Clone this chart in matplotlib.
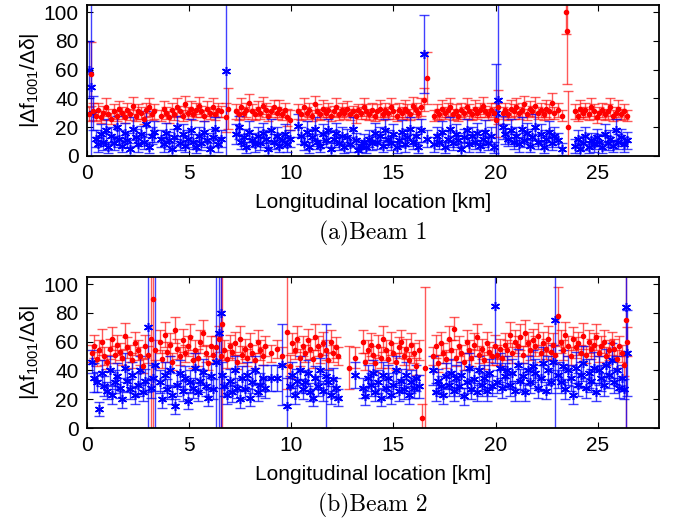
import numpy as np
from matplotlib import pyplot as plt

nan = np.nan

# ---- Beam 1 ----
x1 = [0.10, 0.18, 0.30, 0.42, 0.55, 0.68, 0.80, 0.93, 1.05, 1.18,
      1.30, 1.45, 1.58, 1.70, 1.85, 1.98, 2.10, 2.25, 2.38, 2.50,
      2.65, 2.78, 2.90, 3.05, 3.18, 3.30, 3.62, 3.75, 3.88, 4.00,
      4.15, 4.28, 4.40, 4.55, 4.68, 4.80, 4.95, 5.08, 5.20, 5.35,
      5.48, 5.60, 5.75, 5.88, 6.00, 6.15, 6.28, 6.40, 6.55, 6.82,
      6.90, 7.30, 7.42, 7.55, 7.68, 7.80, 7.95, 8.08, 8.20, 8.35,
      8.48, 8.60, 8.75, 8.88, 9.00, 9.15, 9.28, 9.40, 9.55, 9.68,
      9.80, 9.95, 10.35, 10.48, 10.60, 10.75, 10.88, 11.00, 11.15, 11.28,
      11.40, 11.55, 11.68, 11.80, 11.95, 12.08, 12.20, 12.35, 12.48, 12.60,
      12.75, 12.88, 13.00, 13.15, 13.28, 13.40, 13.55, 13.68, 13.80, 13.95,
      14.08, 14.20, 14.35, 14.48, 14.60, 14.75, 14.88, 15.00, 15.15, 15.28,
      15.40, 15.55, 15.68, 15.80, 15.95, 16.08, 16.20, 16.35, 16.50, 16.62,
      17.00, 17.12, 17.25, 17.38, 17.50, 17.65, 17.78, 17.90, 18.05, 18.18,
      18.30, 18.45, 18.58, 18.70, 18.85, 18.98, 19.10, 19.25, 19.38, 19.50,
      19.65, 19.78, 19.90, 20.02, 20.10, 20.35, 20.48, 20.60, 20.75, 20.88,
      21.00, 21.15, 21.28, 21.40, 21.55, 21.68, 21.80, 21.95, 22.08, 22.20,
      22.35, 22.48, 22.60, 22.75, 22.88, 23.05, 23.25, 23.46, 23.50, 23.56,
      23.90, 24.03, 24.15, 24.28, 24.40, 24.55, 24.68, 24.80, 24.95, 25.08,
      25.20, 25.35, 25.48, 25.60, 25.75, 25.88, 26.00, 26.15, 26.28, 26.45]
red1 = [29, 57, 31, 28, 32, 27, 30, 34, 29, 26,
        31, 28, 33, 30, 27, 32, 29, 35, 28, 31,
        30, 26, 32, 34, 29, 31, 28, 33, 30, 27,
        32, 29, 34, 31, 28, 36, 30, 33, 29, 32,
        35, 31, 28, 33, 30, 34, 29, 32, 31, 27,
        33, 31, 29, 34, 30, 32, 37, 31, 29, 33,
        30, 35, 32, 28, 31, 34, 30, 33, 29, 32,
        27, 25, 31, 29, 34, 30, 32, 28, 36, 31,
        29, 33, 30, 32, 28, 31, 34, 29, 32, 30,
        33, 29, 31, 28, 32, 30, 34, 31, 29, 32,
        28, 31, 33, 29, 32, 30, 34, 31, 28, 32,
        30, 33, 31, 29, 35, 32, 30, 34, 39, 54,
        28, 31, 29, 33, 30, 32, 34, 29, 31, 28,
        32, 30, 34, 31, 29, 33, 30, 32, 35, 31,
        29, 32, 30, 25, 34, 30, 32, 29, 33, 31,
        34, 30, 32, 36, 29, 33, 31, 35, 30, 32,
        29, 33, 31, 37, 30, 32, 28, 100, 87, 20,
        31, 28, 33, 30, 32, 29, 34, 31, 27, 30,
        32, 29, 31, 34, 28, 30, 33, 29, 31, 28]
red1_err = [5, 22, 6, 4, 5, 4, 5, 6, 4, 4,
            5, 4, 5, 4, 4, 5, 4, 6, 4, 5,
            4, 4, 5, 6, 4, 5, 4, 5, 4, 4,
            5, 4, 6, 4, 4, 6, 4, 5, 4, 5,
            6, 4, 4, 5, 4, 6, 4, 5, 4, 10,
            14, 5, 4, 6, 4, 5, 6, 5, 4, 5,
            4, 6, 5, 4, 4, 5, 4, 6, 4, 5,
            6, 7, 5, 4, 6, 4, 5, 4, 6, 5,
            4, 6, 4, 5, 4, 4, 6, 4, 5, 4,
            5, 4, 4, 5, 4, 4, 6, 5, 4, 5,
            4, 5, 6, 4, 5, 4, 6, 5, 4, 5,
            4, 6, 5, 4, 6, 5, 4, 6, 8, 18,
            4, 5, 4, 6, 4, 5, 6, 4, 5, 4,
            5, 4, 6, 5, 4, 6, 4, 5, 6, 4,
            4, 5, 4, 12, 12, 4, 5, 4, 6, 5,
            6, 4, 5, 6, 4, 5, 4, 6, 4, 5,
            4, 6, 5, 7, 4, 5, 4, 15, 37, 25,
            5, 4, 6, 4, 5, 4, 6, 5, 4, 4,
            5, 4, 5, 6, 4, 4, 6, 4, 5, 4]
blue1 = [60, 48, 30, 12, 8, 15, 10, 18, 6, 14,
         9, 20, 12, 7, 16, 11, 5, 19, 13, 8,
         15, 10, 22, 6, 14, 17, 12, 8, 16, 11,
         5, 13, 20, 9, 15, 7, 12, 18, 10, 6,
         14, 9, 17, 11, 5, 13, 19, 8, 12, 59,
         nan, 15, 20, 10, 13, 6, 17, 11, 8, 14,
         9, 16, 12, 5, 18, 10, 14, 7, 11, 15,
         8, 12, 21, 14, 9, 17, 6, 13, 19, 10,
         7, 15, 11, 18, 5, 12, 16, 9, 14, 6,
         13, 8, 19, 11, 4, 7, 10, 6, 12, 9,
         16, 10, 14, 7, 18, 12, 9, 15, 6, 11,
         17, 8, 13, 19, 10, 14, 6, 18, 71, 12,
         8, 14, 10, 17, 6, 12, 19, 9, 15, 11,
         5, 13, 18, 8, 14, 10, 16, 7, 12, 17,
         9, 14, 6, 30, 39, 20, 15, 12, 18, 10,
         14, 8, 19, 11, 16, 7, 13, 20, 10, 15,
         6, 12, 17, 9, 14, 11, 5, nan, nan, nan,
         7, 12, 5, 9, 14, 6, 11, 8, 13, 10,
         6, 15, 9, 12, 7, 18, 10, 13, 8, 11]
blue1_err = [20, 60, 12, 6, 5, 7, 6, 8, 4, 6,
             5, 8, 6, 4, 7, 5, 4, 8, 6, 5,
             6, 5, 9, 4, 6, 7, 6, 5, 7, 6,
             4, 6, 8, 5, 7, 4, 6, 8, 5, 4,
             6, 5, 7, 5, 4, 6, 8, 5, 6, 65,
             0, 7, 8, 5, 6, 4, 7, 5, 5, 6,
             5, 7, 6, 4, 8, 5, 6, 4, 5, 7,
             5, 6, 8, 6, 5, 7, 4, 6, 8, 5,
             4, 7, 5, 8, 4, 6, 7, 5, 6, 4,
             6, 5, 8, 5, 4, 4, 5, 4, 6, 5,
             7, 5, 6, 4, 8, 6, 5, 7, 4, 5,
             8, 5, 6, 8, 5, 6, 4, 8, 27, 6,
             5, 6, 5, 7, 4, 6, 8, 5, 7, 5,
             4, 6, 8, 5, 6, 5, 7, 4, 6, 8,
             5, 6, 4, 34, 70, 8, 7, 5, 8, 5,
             6, 5, 8, 5, 7, 4, 6, 9, 5, 7,
             4, 6, 7, 5, 6, 5, 4, 0, 0, 0,
             5, 6, 4, 5, 6, 4, 5, 5, 6, 5,
             4, 7, 5, 6, 4, 8, 5, 6, 5, 6]

# ---- Beam 2 ----
x2 = [0.25, 0.35, 0.48, 0.60, 0.72, 0.85, 0.98, 1.10, 1.22, 1.35,
      1.48, 1.60, 1.72, 1.85, 1.98, 2.10, 2.22, 2.35, 2.48, 2.60,
      2.72, 2.85, 3.00, 3.12, 3.22, 3.35, 3.55, 3.68, 3.80, 3.92,
      4.05, 4.18, 4.30, 4.42, 4.55, 4.68, 4.80, 4.92, 5.05, 5.18,
      5.30, 5.42, 5.55, 5.68, 5.80, 5.92, 6.05, 6.18, 6.32, 6.45,
      6.55, 6.62, 6.70, 6.85, 6.98, 7.10, 7.22, 7.35, 7.48, 7.60,
      7.72, 7.85, 7.98, 8.10, 8.22, 8.35, 8.48, 8.60, 8.72, 9.00,
      9.30, 9.55, 9.80, 9.92, 10.05, 10.18, 10.30, 10.42, 10.55, 10.68,
      10.80, 10.92, 11.05, 11.18, 11.30, 11.42, 11.55, 11.68, 11.80, 11.92,
      12.05, 12.18, 12.30, 12.80, 13.10, 13.50, 13.62, 13.75, 13.88, 14.00,
      14.12, 14.25, 14.38, 14.50, 14.62, 14.75, 14.88, 15.00, 15.12, 15.25,
      15.38, 15.50, 15.62, 15.75, 15.88, 16.00, 16.12, 16.25, 16.40, 16.55,
      16.95, 17.08, 17.20, 17.32, 17.45, 17.58, 17.70, 17.82, 17.95, 18.08,
      18.20, 18.32, 18.45, 18.58, 18.70, 18.82, 18.95, 19.08, 19.20, 19.32,
      19.45, 19.58, 19.70, 19.82, 19.95, 20.08, 20.20, 20.32, 20.45, 20.58,
      20.70, 20.82, 20.95, 21.08, 21.20, 21.32, 21.45, 21.58, 21.70, 21.82,
      21.95, 22.08, 22.20, 22.32, 22.45, 22.58, 22.70, 22.82, 22.92, 23.05,
      23.18, 23.30, 23.42, 23.55, 23.68, 23.80, 23.92, 24.05, 24.18, 24.30,
      24.42, 24.55, 24.68, 24.80, 24.92, 25.05, 25.18, 25.30, 25.42, 25.55,
      25.68, 25.80, 25.92, 26.05, 26.18, 26.30, 26.38, 26.45]
red2 = [52, 57, 48, 54, 60, 50, 46, 55, 62, 51,
        58, 53, 49, 64, 56, 52, 47, 59, 54, 50,
        43, 57, 51, 62, 90, 54, 60, 48, 65, 53,
        58, 46, 68, 55, 50, 61, 52, 57, 63, 47,
        54, 49, 60, 66, 52, 45, 57, 51, 56, 62,
        50, 72, 54, 48, 57, 53, 59, 46, 62, 51,
        55, 49, 58, 52, 47, 60, 54, 50, 57, 52,
        55, 50, 67, 43, 59, 54, 62, 49, 57, 52,
        61, 55, 48, 63, 57, 51, 59, 54, 47, 60,
        52, 56, 50, 42, 49, 60, 46, 54, 58, 51,
        45, 57, 49, 62, 54, 48, 59, 52, 46, 56,
        60, 50, 55, 47, 58, 52, 43, 54, 7, 42,
        50, 57, 45, 59, 52, 48, 62, 54, 69, 49,
        57, 52, 46, 60, 54, 49, 58, 63, 51, 55,
        47, 59, 53, 50, 57, 51, 55, 49, 58, 54,
        65, 52, 60, 57, 63, 51, 66, 59, 54, 61,
        57, 64, 52, 59, 55, 62, 53, 58, 51, 78,
        60, 54, 65, 57, 50, 62, 56, 59, 52, 64,
        51, 60, 55, 58, 63, 52, 57, 60, 50, 54,
        59, 55, 48, 57, 52, 44, 75, 60]
red2_err = [6, 8, 5, 7, 9, 6, 5, 7, 8, 6,
            7, 6, 5, 9, 7, 6, 5, 8, 7, 6,
            5, 8, 6, 100, 100, 7, 8, 6, 9, 7,
            8, 6, 9, 7, 6, 8, 6, 7, 9, 5,
            7, 6, 8, 9, 6, 5, 7, 6, 8, 9,
            100, 100, 7, 6, 8, 6, 8, 5, 9, 6,
            7, 6, 8, 6, 5, 8, 7, 6, 7, 6,
            6, 6, 40, 8, 7, 6, 9, 6, 7, 6,
            8, 7, 6, 9, 7, 6, 8, 7, 6, 8,
            6, 7, 6, 15, 7, 8, 6, 7, 8, 6,
            6, 8, 7, 9, 7, 6, 8, 7, 6, 7,
            8, 6, 7, 6, 8, 7, 6, 7, 10, 56,
            6, 8, 6, 8, 7, 6, 9, 7, 8, 6,
            7, 6, 6, 8, 7, 6, 8, 9, 6, 7,
            6, 8, 7, 6, 8, 7, 7, 6, 8, 7,
            9, 7, 8, 7, 9, 6, 9, 8, 7, 8,
            7, 9, 6, 8, 7, 9, 6, 8, 6, 20,
            8, 7, 9, 7, 6, 8, 7, 8, 6, 9,
            6, 8, 7, 8, 9, 6, 7, 8, 6, 7,
            8, 7, 6, 7, 6, 8, 100, 10]
blue2 = [46, 35, 32, 13, 38, 29, 26, 40, 23, 32,
         36, 28, 20, 42, 33, 27, 37, 23, 30, 40,
         25, 33, 70, 28, 35, 44, 32, 20, 37, 27,
         40, 23, 15, 30, 38, 26, 35, 19, 32, 28,
         42, 25, 33, 39, 29, 21, 36, 27, 46, 66,
         80, 37, 29, 23, 33, 25, 40, 28, 20, 35,
         27, 37, 21, 32, 40, 25, 30, 35, 28, 35,
         35, 44, 15, 29, 37, 23, 33, 40, 27, 32,
         38, 25, 21, 35, 29, 40, 26, 36, 32, 23,
         34, 28, 21, nan, 37, 28, 22, 35, 30, 38,
         25, 32, 21, 37, 28, 35, 23, 30, 40, 26,
         33, 27, 37, 23, 32, 28, 35, 29, nan, nan,
         40, 25, 33, 29, 23, 36, 30, 38, 26, 35,
         29, 37, 22, 32, 42, 27, 34, 25, 40, 30,
         35, 26, 38, 29, 85, 32, 42, 28, 36, 40,
         30, 38, 26, 44, 33, 36, 25, 40, 32, 43,
         38, 28, 35, 45, 26, 40, 32, 46, 75, 37,
         32, 43, 27, 40, 35, 23, 42, 30, 37, 45,
         28, 38, 33, 42, 25, 40, 35, 30, 44, 37,
         47, 32, 40, 28, 35, 27, 84, 52]
blue2_err = [8, 10, 7, 5, 9, 7, 6, 10, 6, 8,
             9, 7, 6, 10, 8, 7, 9, 6, 8, 10,
             6, 8, 100, 7, 9, 100, 8, 6, 9, 7,
             10, 6, 5, 8, 9, 7, 8, 6, 8, 7,
             10, 6, 8, 9, 7, 6, 9, 7, 100, 100,
             100, 9, 7, 6, 8, 7, 10, 7, 6, 8,
             7, 9, 6, 8, 10, 6, 8, 9, 7, 9,
             9, 28, 20, 7, 9, 6, 8, 10, 7, 8,
             9, 6, 6, 8, 7, 9, 7, 36, 8, 6,
             8, 7, 6, 0, 9, 7, 6, 9, 8, 9,
             6, 8, 6, 9, 7, 9, 6, 8, 10, 7,
             8, 7, 9, 6, 8, 7, 9, 8, 0, 0,
             10, 6, 8, 7, 6, 9, 8, 10, 7, 9,
             7, 9, 6, 8, 10, 7, 8, 6, 10, 8,
             9, 7, 10, 7, 40, 8, 10, 7, 9, 10,
             8, 10, 7, 11, 8, 9, 6, 10, 8, 11,
             10, 7, 9, 11, 6, 10, 8, 12, 100, 9,
             8, 11, 7, 10, 9, 6, 11, 8, 9, 12,
             7, 10, 8, 11, 6, 10, 9, 8, 11, 9,
             12, 8, 10, 7, 9, 7, 100, 30]

captions = ['(a)Beam 1', '(b)Beam 2']
ylabel = '|Δf$_{1001}$/Δδ|'
xlabel = 'Longitudinal location [km]'

plt.rcParams['font.family'] = ['Liberation Sans', 'DejaVu Sans']
plt.rcParams['mathtext.fontset'] = 'custom'
plt.rcParams['mathtext.rm'] = 'Liberation Sans'
plt.rcParams['mathtext.it'] = 'Liberation Sans:italic'


def panel(ax, x, r, re, b, be, caption):
    ax.errorbar(x, r, yerr=re, fmt='.', color='red', ms=6,
                ecolor=(1, 0, 0, 0.65), elinewidth=1.0, capsize=3.5, capthick=1.0)
    ax.errorbar(x, b, yerr=be, fmt='none', ecolor=(0, 0, 1, 0.75),
                elinewidth=1.0, capsize=3.5, capthick=1.0)
    ax.plot(x, b, ls='none', marker=(6, 2, 0), color='blue', ms=6.5, mew=1.1)
    ax.set_xlim(0, 28)
    ax.set_ylim(0, 105)
    ax.set_xticks([0, 5, 10, 15, 20, 25])
    ax.set_yticks([0, 20, 40, 60, 80, 100])
    ax.tick_params(direction='in', length=4, width=0.8, top=True, right=True,
                   labelsize=15, pad=6)
    for s in ax.spines.values():
        s.set_linewidth(1.3)
    ax.set_xlabel(xlabel, fontsize=15, labelpad=7)
    ax.set_ylabel(ylabel, fontsize=15, labelpad=2)
    ax.text(0.5, -0.51, caption, transform=ax.transAxes, ha='center',
            va='center', fontsize=17, family='cmr10')


fig = plt.figure(figsize=(6.81, 5.21), dpi=100)
ax1 = fig.add_axes([0.1278, 0.7006, 0.8399, 0.2898])
ax2 = fig.add_axes([0.1278, 0.1785, 0.8399, 0.2898])
panel(ax1, x1, red1, red1_err, blue1, blue1_err, captions[0])
panel(ax2, x2, red2, red2_err, blue2, blue2_err, captions[1])

fig.savefig('out.png', dpi=100)
plt.close()
